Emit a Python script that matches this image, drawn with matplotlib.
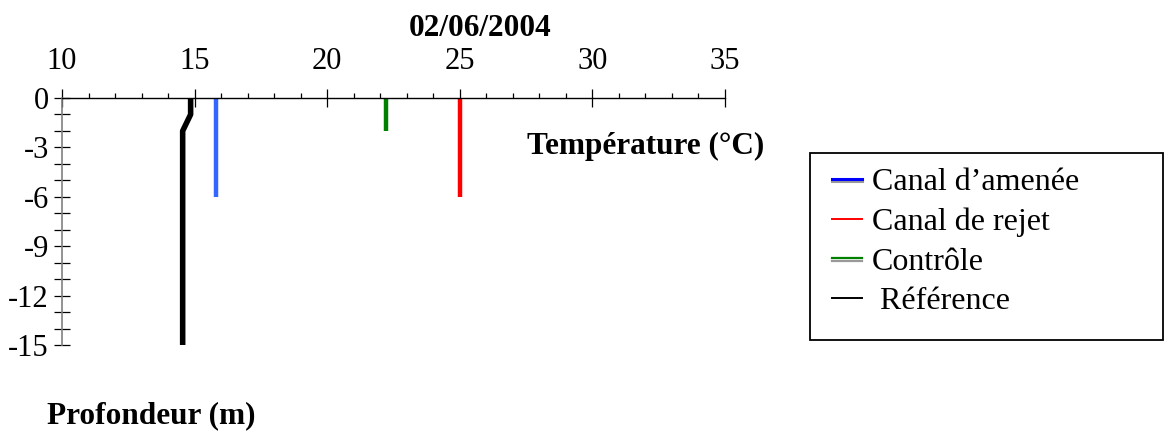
import matplotlib
matplotlib.use("Agg")
import matplotlib.pyplot as plt
from matplotlib.lines import Line2D
from matplotlib.patches import Rectangle
import matplotlib.patheffects as pe
from matplotlib.ticker import MultipleLocator

plt.rcParams['font.family'] = ['Liberation Serif', 'DejaVu Serif']

# Temperature profiles (°C) against depth (m)
amenee_temp = [15.8, 15.8]
amenee_depth = [0, -6]
rejet_temp = [25.0, 25.0]
rejet_depth = [0, -6]
controle_temp = [22.2, 22.2]
controle_depth = [0, -2]
reference_temp = [14.85, 14.85, 14.55, 14.55]
reference_depth = [0, -1, -2, -15]

labels = ["Canal d\u2019amenée", "Canal de rejet", "Contrôle", " Référence"]
title = "02/06/2004"

W, H = 1167, 432
fig = plt.figure(figsize=(W / 100, H / 100), dpi=100)
ax = fig.add_axes([62 / W, 1 - 345 / H, 663 / W, 247 / H])

ax.plot(amenee_temp, amenee_depth, color="#3366ff", lw=3.2, clip_on=False, solid_capstyle="butt")
ax.plot(rejet_temp, rejet_depth, color="#ff0000", lw=3.2, clip_on=False, solid_capstyle="butt")
ax.plot(controle_temp, controle_depth, color="#008000", lw=3.2, clip_on=False, solid_capstyle="butt")
ax.plot(reference_temp, reference_depth, color="black", lw=4, clip_on=False, solid_capstyle="butt")

ax.set_xlim(10, 35)
ax.set_ylim(-15, 0)

for s in ("bottom", "right"):
    ax.spines[s].set_visible(False)
ax.spines["top"].set_color("black")
ax.spines["top"].set_linewidth(1.0)
ax.spines["left"].set_color("#808080")
ax.spines["left"].set_linewidth(1.2)

ax.xaxis.set_ticks_position("top")
ax.xaxis.set_major_locator(MultipleLocator(5))
ax.xaxis.set_minor_locator(MultipleLocator(1))
ax.tick_params(axis="x", which="major", direction="inout", length=13, width=0.9,
               labelsize=22, pad=9, colors="black")
ax.tick_params(axis="x", which="minor", direction="out", length=3.5, width=0.9, colors="black")

ax.yaxis.set_major_locator(MultipleLocator(3))
ax.yaxis.set_minor_locator(MultipleLocator(1))
ax.tick_params(axis="y", which="both", direction="inout", length=11, width=0.9,
               labelsize=22, pad=4, colors="black")
ax.set_yticks(range(-15, 1, 3))
ax.set_yticklabels([str(v) for v in range(-15, 1, 3)])

fig.text(480 / W, 1 - 28 / H, title, ha="center", va="center",
         fontsize=22.5, fontweight="bold")
fig.text(646 / W, 1 - 146 / H, "Température (°C)", ha="center", va="center",
         fontsize=22.5, fontweight="bold")
fig.text(47 / W, 1 - 416 / H, "Profondeur (m)", ha="left", va="center",
         fontsize=22.5, fontweight="bold")

# Legend frame and entries
fig.patches.append(Rectangle((810 / W, 1 - 340 / H), 353 / W, 187 / H,
                             transform=fig.transFigure, fill=False,
                             edgecolor="black", linewidth=1.3))
shadow = [pe.SimpleLineShadow(offset=(0, -1.5), shadow_color="#999999", alpha=1), pe.Normal()]
handles = [
    Line2D([], [], color="#0000ff", lw=2.2, path_effects=shadow),
    Line2D([], [], color="#ff0000", lw=1.4),
    Line2D([], [], color="#008000", lw=1.6, path_effects=shadow),
    Line2D([], [], color="black", lw=1.4),
]
fig.legend(handles, labels, loc="upper left", bbox_to_anchor=(832 / W, 1 - 168 / H),
           frameon=False, fontsize=23, handlelength=0.95, handletextpad=0.3,
           labelspacing=0.32, borderpad=0, borderaxespad=0)

fig.savefig("out.png", dpi=100)
